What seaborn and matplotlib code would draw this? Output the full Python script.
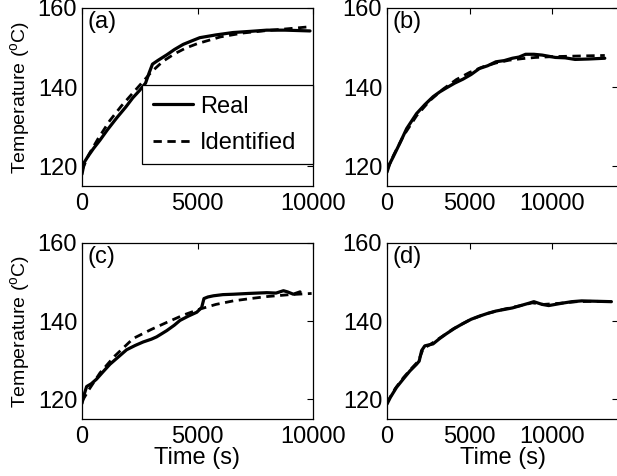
import matplotlib
matplotlib.use("Agg")
import matplotlib.pyplot as plt
import seaborn as sns
from matplotlib.lines import Line2D

# ---- data ----
ta_real = [0, 100, 260, 500, 780, 1100, 1500, 1900, 2200, 2500, 2750, 2900, 3050, 3300, 3680, 4000, 4380, 4800, 5100, 5800, 6540, 7300, 8000, 8800, 9870]
Ta_real = [118.0, 121.0, 122.5, 124.5, 126.6, 129.2, 132.2, 135.0, 137.3, 139.2, 141.0, 143.5, 145.8, 146.8, 148.2, 149.5, 150.8, 151.8, 152.5, 153.2, 153.8, 154.1, 154.4, 154.4, 154.2]
ta_ident = [0, 300, 700, 1200, 1700, 2200, 2700, 3000, 3500, 4000, 4500, 5000, 6000, 7000, 8000, 9000, 9750]
Ta_ident = [119.0, 123.0, 127.0, 131.5, 135.2, 138.5, 141.8, 143.8, 146.5, 148.4, 149.9, 151.0, 152.7, 153.7, 154.3, 154.8, 155.2]

tb_real = [0, 150, 380, 800, 1190, 1790, 2300, 2800, 3200, 3600, 4100, 4600, 5100, 5600, 6100, 6600, 7100, 7600, 8000, 8400, 8900, 9400, 9800, 10200, 10800, 11400, 12200, 13200]
Tb_real = [118.5, 120.5, 122.4, 126.0, 129.5, 133.3, 135.6, 137.6, 138.8, 139.8, 141.0, 142.0, 143.2, 144.7, 145.4, 146.4, 146.7, 147.3, 147.6, 148.3, 148.3, 148.1, 147.8, 147.5, 147.4, 147.0, 147.1, 147.3]
tb_ident = [0, 400, 1000, 1800, 2600, 3400, 4200, 5000, 5800, 6600, 7400, 8200, 9000, 10000, 11000, 12000, 13200]
Tb_ident = [119.0, 122.8, 127.7, 132.8, 136.6, 139.5, 141.9, 143.7, 145.1, 146.1, 146.8, 147.2, 147.5, 147.7, 147.8, 147.9, 148.0]

tc_real = [0, 80, 200, 400, 630, 900, 1210, 1600, 1930, 2300, 2650, 3000, 3230, 3670, 4000, 4240, 4600, 4970, 5180, 5280, 5450, 5690, 6100, 6550, 7200, 8000, 8400, 8720, 8900, 9150, 9440]
Tc_real = [119.0, 121.0, 123.3, 124.0, 125.2, 127.0, 129.0, 131.0, 132.7, 133.8, 134.7, 135.4, 136.0, 137.6, 139.0, 140.2, 141.3, 142.3, 143.5, 145.8, 146.2, 146.5, 146.8, 146.9, 147.1, 147.3, 147.2, 147.8, 147.5, 146.9, 147.5]
tc_ident = [0, 300, 780, 1400, 2220, 3000, 3670, 4400, 5100, 5800, 6550, 7300, 8000, 9000, 9940]
Tc_ident = [119.5, 122.5, 126.8, 131.0, 135.6, 137.9, 139.7, 141.6, 143.1, 144.3, 145.2, 145.8, 146.3, 146.8, 147.1]

td_real = [0, 200, 580, 1000, 1390, 1790, 1950, 2100, 2290, 2790, 3200, 3600, 4100, 4600, 5100, 5600, 6100, 6600, 7100, 7600, 8100, 8600, 8900, 9400, 9800, 10600, 11200, 11800, 12700, 13600]
Td_real = [118.8, 120.5, 123.1, 125.3, 127.3, 129.0, 129.8, 132.5, 133.7, 134.2, 135.6, 136.8, 138.2, 139.4, 140.5, 141.3, 142.0, 142.6, 143.0, 143.4, 144.0, 144.6, 145.0, 144.3, 144.0, 144.6, 145.0, 145.2, 145.1, 145.0]
td_ident = [0, 500, 1000, 1500, 1900, 2200, 2600, 3200, 4000, 5000, 6000, 7000, 8000, 8800, 9500, 10500, 11500, 12500, 13600]
Td_ident = [119.2, 122.8, 125.6, 128.0, 129.8, 133.0, 134.0, 135.7, 138.0, 140.3, 141.9, 143.0, 143.9, 144.7, 144.3, 144.6, 145.0, 145.1, 145.0]

panel_labels = ["(a)", "(b)", "(c)", "(d)"]
y_ticks = [120, 140, 160]
x_ticks = [0, 5000, 10000]
xlims = [10000, 14000, 10000, 14000]
legend_labels = ["Real", "Identified"]
ylabel_text = r"Temperature ($^{\mathrm{o}}$C)"
xlabel_text = "Time (s)"

# ---- style ----
sns.set_theme(style="white")
plt.rcParams["font.family"] = ["Liberation Sans", "DejaVu Sans"]
plt.rcParams["mathtext.fontset"] = "custom"
plt.rcParams["mathtext.rm"] = "Liberation Sans"
plt.rcParams["mathtext.it"] = "Liberation Sans:italic"
plt.rcParams["lines.scale_dashes"] = False
plt.rcParams["text.color"] = "black"
plt.rcParams["axes.labelcolor"] = "black"

W, H = 617, 476
fig = plt.figure(figsize=(W / 100, H / 100), dpi=100)

def fx(px):
    return px / W

def fy(py):
    return 1 - py / H

aw = 231
boxes = [
    (82, 8, 186),
    (387, 8, 186),
    (82, 243, 419),
    (387, 243, 419),
]

series = [
    (ta_real, Ta_real, ta_ident, Ta_ident),
    (tb_real, Tb_real, tb_ident, Tb_ident),
    (tc_real, Tc_real, tc_ident, Tc_ident),
    (td_real, Td_real, td_ident, Td_ident),
]

dash = (0, (6, 4))
for i, ((left, top, bottom), (tr, Tr, ti, Ti)) in enumerate(zip(boxes, series)):
    ax = fig.add_axes([fx(left), fy(bottom), aw / W, (bottom - top) / H])
    sns.lineplot(x=tr, y=Tr, ax=ax, color="black", lw=2.3, sort=False)
    sns.lineplot(x=ti, y=Ti, ax=ax, color="black", lw=2.0, linestyle=dash, sort=False)
    ax.set_xlim(0, xlims[i])
    ax.set_ylim(115, 160)
    ax.set_xticks(x_ticks)
    ax.set_yticks(y_ticks)
    ax.tick_params(direction="in", top=True, right=True, length=4, width=0.8,
                   labelsize=17, colors="black")
    ax.tick_params(axis="x", pad=5)
    ax.tick_params(axis="y", pad=3.5)
    for s in ax.spines.values():
        s.set_visible(True)
        s.set_color("black")
        s.set_linewidth(0.9)
    ax.text(0.025, 0.985, panel_labels[i], transform=ax.transAxes, fontsize=17,
            ha="left", va="top")
    if i % 2 == 0:
        ax.set_ylabel(ylabel_text, fontsize=14, labelpad=4)
    else:
        ax.set_ylabel("")
    if i >= 2:
        ax.set_xlabel(xlabel_text, fontsize=17, labelpad=-1)
    else:
        ax.set_xlabel("")
    if i == 0:
        handles = [Line2D([], [], color="black", lw=2.3),
                   Line2D([], [], color="black", lw=2.0, linestyle=dash)]
        x0 = (142 - 82) / aw
        leg = ax.legend(handles, legend_labels, loc="upper right",
                        bbox_to_anchor=(x0, 0.0, 1.0 - x0, (186 - 85) / 178),
                        mode="expand", borderaxespad=0,
                        fontsize=17, handlelength=1.7, handletextpad=0.3,
                        labelspacing=0.6, borderpad=0.45, fancybox=False,
                        framealpha=1, edgecolor="black")
        leg.get_frame().set_linewidth(0.9)

fig.savefig("out.png", dpi=100)
